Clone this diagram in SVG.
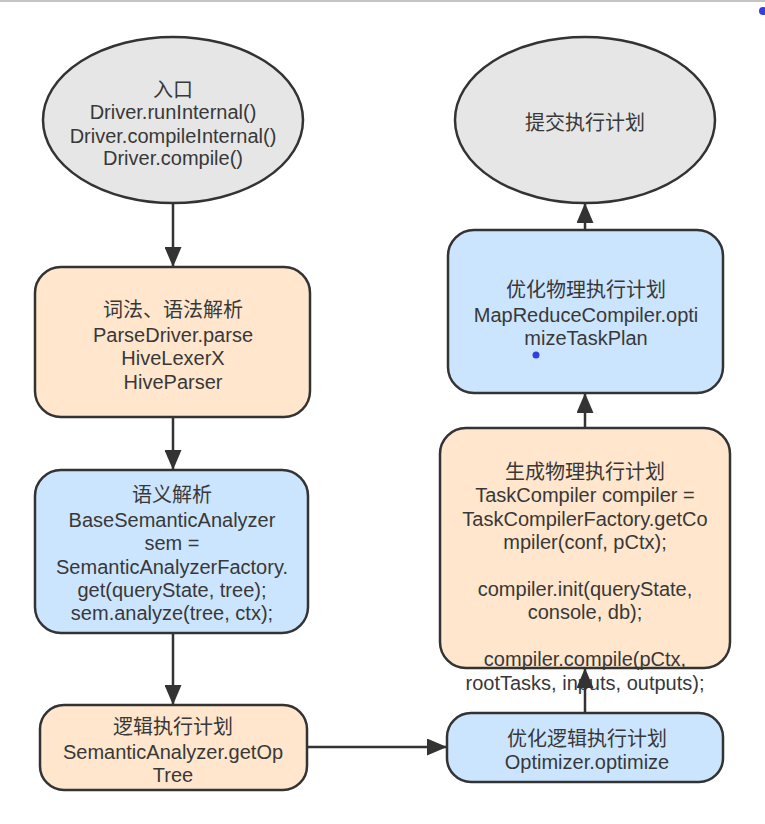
<svg xmlns="http://www.w3.org/2000/svg" width="765" height="824" viewBox="0 0 765 824">
<style>
.t{font-family:"Liberation Sans","Noto Sans CJK SC",Arial,sans-serif;font-size:20px;fill:#383838;text-anchor:middle}
.node{stroke:#333;stroke-width:2.5}
.gray{fill:#e6e6e6}
.peach{fill:#ffe6cc}
.blue{fill:#cce5ff}
.conn{stroke:#333;stroke-width:2.5;fill:none}
</style>
<defs>
<marker id="ah" markerUnits="userSpaceOnUse" markerWidth="21" markerHeight="17" refX="20" refY="8.5" orient="auto">
<path d="M0,0 L20,8.5 L0,17 Z" fill="#333"/>
</marker>
</defs>
<rect x="0" y="0" width="765" height="824" fill="#fff"/>
<rect x="0" y="0" width="765" height="2" fill="#c4c4c4"/>

<g id="entry">
<ellipse class="node gray" cx="173" cy="120" rx="130" ry="83"/>
<text class="t" x="173" y="97">入口</text>
<text class="t" x="173" y="119">Driver.runInternal()</text>
<text class="t" x="173" y="143">Driver.compileInternal()</text>
<text class="t" x="173" y="165">Driver.compile()</text>
</g>

<g id="parse">
<rect class="node peach" x="35" y="267" width="275" height="150" rx="26"/>
<text class="t" x="173" y="317">词法、语法解析</text>
<text class="t" x="173" y="342">ParseDriver.parse</text>
<text class="t" x="173" y="365">HiveLexerX</text>
<text class="t" x="173" y="389">HiveParser</text>
</g>

<g id="semantic">
<rect class="node blue" x="35" y="470" width="273" height="163" rx="26"/>
<text class="t" x="172" y="502">语义解析</text>
<text class="t" x="172" y="527">BaseSemanticAnalyzer</text>
<text class="t" x="172" y="550">sem =</text>
<text class="t" x="172" y="574">SemanticAnalyzerFactory.</text>
<text class="t" x="172" y="597">get(queryState, tree);</text>
<text class="t" x="172" y="620">sem.analyze(tree, ctx);</text>
</g>

<g id="logical">
<rect class="node peach" x="40" y="705" width="267" height="85" rx="24"/>
<text class="t" x="173" y="734">逻辑执行计划</text>
<text class="t" x="173" y="759">SemanticAnalyzer.getOp</text>
<text class="t" x="173" y="782">Tree</text>
</g>

<g id="optlogical">
<rect class="node blue" x="447" y="713" width="276" height="69" rx="24"/>
<text class="t" x="587" y="746">优化逻辑执行计划</text>
<text class="t" x="587" y="769">Optimizer.optimize</text>
</g>

<g id="physical">
<rect class="node peach" x="440" y="428" width="290" height="240" rx="26"/>
<text class="t" x="585" y="479">生成物理执行计划</text>
<text class="t" x="585" y="502">TaskCompiler compiler =</text>
<text class="t" x="585" y="526">TaskCompilerFactory.getCo</text>
<text class="t" x="585" y="549">mpiler(conf, pCtx);</text>
<text class="t" x="585" y="596">compiler.init(queryState,</text>
<text class="t" x="585" y="619">console, db);</text>
<text class="t" x="585" y="666">compiler.compile(pCtx,</text>
<text class="t" x="585" y="690">rootTasks, inputs, outputs);</text>
</g>

<g id="optphysical">
<rect class="node blue" x="448" y="230" width="275" height="163" rx="26"/>
<text class="t" x="586" y="297">优化物理执行计划</text>
<text class="t" x="586" y="322">MapReduceCompiler.opti</text>
<text class="t" x="586" y="345">mizeTaskPlan</text>
</g>

<g id="submit">
<ellipse class="node gray" cx="585" cy="120" rx="130" ry="83"/>
<text class="t" x="585" y="130">提交执行计划</text>
</g>

<g id="connectors">
<line class="conn" x1="173" y1="203" x2="173" y2="267" marker-end="url(#ah)"/>
<line class="conn" x1="173" y1="417" x2="173" y2="470" marker-end="url(#ah)"/>
<line class="conn" x1="173" y1="633" x2="173" y2="705" marker-end="url(#ah)"/>
<line class="conn" x1="307" y1="747" x2="447" y2="747" marker-end="url(#ah)"/>
<line class="conn" x1="585" y1="713" x2="585" y2="668" marker-end="url(#ah)"/>
<line class="conn" x1="585" y1="428" x2="585" y2="393" marker-end="url(#ah)"/>
<line class="conn" x1="585" y1="230" x2="585" y2="203" marker-end="url(#ah)"/>
</g>

<circle cx="536" cy="355" r="3.5" fill="#3340e0"/>
<circle cx="763" cy="11" r="4" fill="#3340e0"/>
</svg>
